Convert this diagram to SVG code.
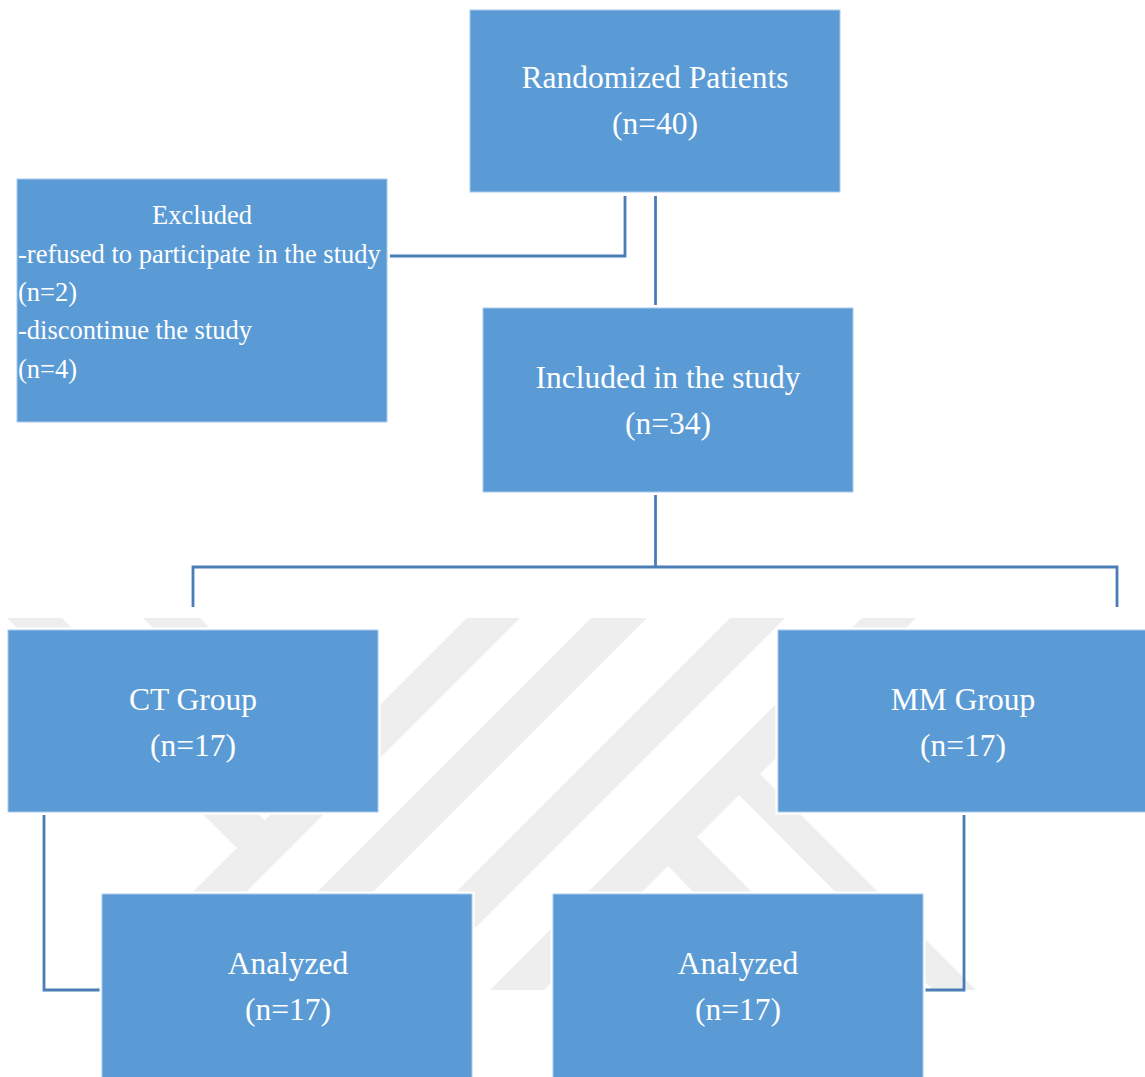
<svg xmlns="http://www.w3.org/2000/svg" width="1145" height="1077" viewBox="0 0 1145 1077">
  <style>
    .box { fill: #5b9bd5; stroke: #a9c9ea; stroke-width: 1; }
    .halo { fill: none; stroke: #ffffff; stroke-width: 5; }
    .t { font-family: "Liberation Serif", "Times New Roman", serif; fill: #ffffff; font-size: 31.5px; text-anchor: middle; }
    .s { font-family: "Liberation Serif", "Times New Roman", serif; fill: #ffffff; font-size: 26.5px; }
    .wm { fill: #eeeeee; }
    .conn { fill: none; stroke: #4a7db5; stroke-width: 2.8; stroke-linejoin: miter; stroke-linecap: butt; }
  </style>
  <rect x="0" y="0" width="1145" height="1077" fill="#ffffff"/>

  <g id="watermark">
    <polygon class="wm" points="7,618 62,618 292,848 237,848"/>
    <polygon class="wm" points="143,618 200,618 362,780 305,780"/>
    <polygon class="wm" points="467,618 520,618 148,990 95,990"/>
    <polygon class="wm" points="591,618 647,618 275,990 219,990"/>
    <polygon class="wm" points="730,618 785,618 413,990 358,990"/>
    <polygon class="wm" points="862,618 916,618 544,990 490,990"/>
    <polygon class="wm" points="666,864 696,836 850,990 789,990"/>
    <polygon class="wm" points="712,768 760,774 976,990 933,990"/>
  </g>

  <g id="connectors">
    <polyline class="conn" points="625,196 625,256 390,256"/>
    <line class="conn" x1="655.5" y1="196" x2="655.5" y2="305"/>
    <line class="conn" x1="655.5" y1="495" x2="655.5" y2="567"/>
    <polyline class="conn" points="193,607 193,567 1117,567 1117,607"/>
    <polyline class="conn" points="44,815 44,990 101,990"/>
    <polyline class="conn" points="964,815 964,990 924,990"/>
  </g>

  <g id="node-randomized">
    <rect class="halo" x="470" y="10" width="370" height="182"/>
    <rect class="box" x="470" y="10" width="370" height="182"/>
    <text class="t" x="655" y="88">Randomized Patients</text>
    <text class="t" x="655" y="134">(n=40)</text>
  </g>

  <g id="node-excluded">
    <rect class="halo" x="17" y="179" width="370" height="243"/>
    <rect class="box" x="17" y="179" width="370" height="243"/>
    <text class="s" x="202" y="224" text-anchor="middle">Excluded</text>
    <text class="s" x="18" y="263">-refused to participate in the study</text>
    <text class="s" x="18" y="301">(n=2)</text>
    <text class="s" x="18" y="339">-discontinue the study</text>
    <text class="s" x="18" y="378">(n=4)</text>
  </g>

  <g id="node-included">
    <rect class="halo" x="483" y="308" width="370" height="184"/>
    <rect class="box" x="483" y="308" width="370" height="184"/>
    <text class="t" x="668" y="388">Included in the study</text>
    <text class="t" x="668" y="434">(n=34)</text>
  </g>

  <g id="node-ct">
    <rect class="halo" x="8" y="630" width="370" height="182"/>
    <rect class="box" x="8" y="630" width="370" height="182"/>
    <text class="t" x="193" y="710">CT Group</text>
    <text class="t" x="193" y="756">(n=17)</text>
  </g>

  <g id="node-mm">
    <rect class="halo" x="778" y="630" width="370" height="182"/>
    <rect class="box" x="778" y="630" width="370" height="182"/>
    <text class="t" x="963" y="710">MM Group</text>
    <text class="t" x="963" y="756">(n=17)</text>
  </g>

  <g id="node-analyzed-ct">
    <rect class="halo" x="102" y="894" width="370" height="190"/>
    <rect class="box" x="102" y="894" width="370" height="190"/>
    <text class="t" x="288" y="974">Analyzed</text>
    <text class="t" x="288" y="1020">(n=17)</text>
  </g>

  <g id="node-analyzed-mm">
    <rect class="halo" x="553" y="894" width="370" height="190"/>
    <rect class="box" x="553" y="894" width="370" height="190"/>
    <text class="t" x="738" y="974">Analyzed</text>
    <text class="t" x="738" y="1020">(n=17)</text>
  </g>
</svg>
